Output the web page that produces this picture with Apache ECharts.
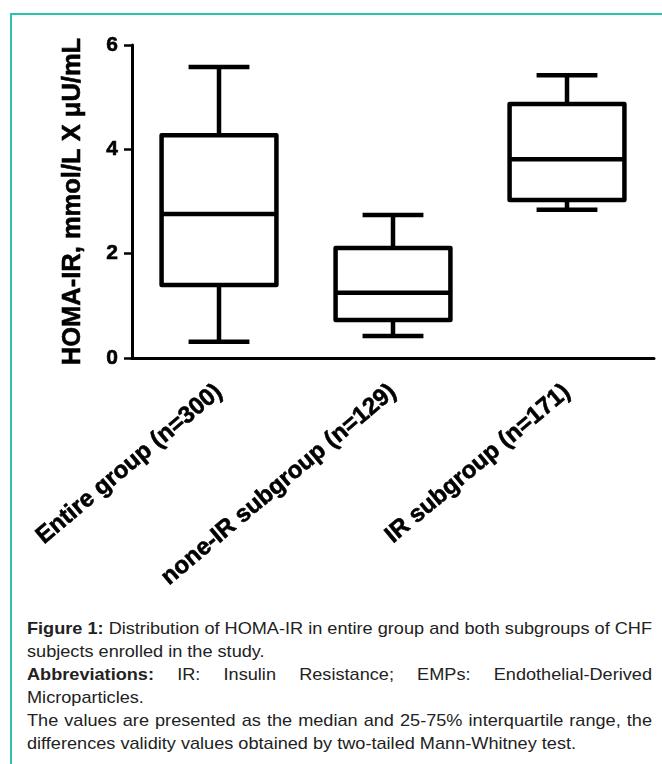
<!DOCTYPE html>
<html>
<head>
<meta charset="utf-8">
<script src="https://cdn.jsdelivr.net/npm/echarts@6/dist/echarts.min.js"></script>
<style>
  html, body { margin: 0; padding: 0; background: #fff; }
  #wrap { position: relative; width: 662px; height: 764px; overflow: hidden; }
  #frame { position: absolute; left: 10px; top: 13px; width: 660px; height: 760px;
           border-top: 2px solid #2cc3ac; border-left: 2px solid #2cc3ac; }
  #chart { position: absolute; left: 0; top: 0; width: 662px; height: 612px; }
  #caption { position: absolute; left: 27px; top: 617px;
             font-family: "Liberation Sans", Arial, sans-serif;
             font-size: 17px; line-height: 23px; color: #222; transform-origin: 0 0; }
  #caption div { white-space: nowrap; }
  #caption .j { text-align: justify; text-align-last: justify; }
  #caption b { font-weight: bold; }
</style>
</head>
<body>
<div id="wrap">
  <div id="frame"></div>
  <div id="chart"></div>
  <div id="caption">
    <div class="j"><b>Figure 1:</b> Distribution of HOMA-IR in entire group and both subgroups of CHF</div>
    <div>subjects enrolled in the study.</div>
    <div class="j"><b>Abbreviations:</b> IR: Insulin Resistance; EMPs: Endothelial-Derived</div>
    <div>Microparticles.</div>
    <div class="j">The values are presented as the median and 25-75% interquartile range, the</div>
    <div>differences validity values obtained by two-tailed Mann-Whitney test.</div>
  </div>
</div>
<script>
// Categories
var categories = ['Entire group (n=300)', 'none-IR subgroup (n=129)', 'IR subgroup (n=171)'];
// [min, Q1, median, Q3, max]
var entireGroup = [0.31, 1.40, 2.76, 4.27, 5.58];
var noneIRGroup = [0.42, 0.73, 1.25, 2.11, 2.74];
var irGroup = [2.84, 3.03, 3.81, 4.87, 5.42];
var yTicks = [0, 2, 4, 6];
var yAxisTitle = 'HOMA-IR, mmol/L X \u03bcU/mL';

// caption: condense to the reference's narrow look, fixed 625px text width
(function () {
  var cap = document.getElementById('caption');
  var probe = document.createElement('span');
  probe.style.whiteSpace = 'nowrap';
  probe.innerHTML = cap.children[0].innerHTML;
  cap.appendChild(probe);
  var w = probe.getBoundingClientRect().width;
  cap.removeChild(probe);
  var s = 625 / w;
  cap.style.width = (625 / s) + 'px';
  cap.style.transform = 'scaleX(' + s + ')';
})();

var groups = [entireGroup, noneIRGroup, irGroup];
var boxData = groups.map(function (g, i) { return [i].concat(g); });

var boldText = { fontFamily: 'Liberation Sans, Arial, sans-serif', fontWeight: 'bold', color: '#000',
                 textBorderColor: '#000', textBorderWidth: 0.6 };

var chart = echarts.init(document.getElementById('chart'));
chart.setOption({
  animation: false,
  backgroundColor: 'transparent',
  grid: { left: 132, right: 8, top: 45, height: 313 },
  xAxis: {
    type: 'category',
    data: categories,
    boundaryGap: true,
    axisLine: { lineStyle: { color: '#000', width: 3 } },
    axisTick: { alignWithLabel: true, length: 10, lineStyle: { color: '#000', width: 2.5 } },
    axisLabel: Object.assign({ rotate: 40, interval: 0, margin: 31, fontSize: 24 }, boldText),
    splitLine: { show: false }
  },
  yAxis: {
    type: 'value',
    min: yTicks[0], max: yTicks[yTicks.length - 1], interval: 2,
    name: yAxisTitle,
    nameLocation: 'middle',
    nameRotate: 90,
    nameGap: 46,
    nameTextStyle: Object.assign({ fontSize: 25.5 }, boldText),
    axisLine: { show: true, lineStyle: { color: '#000', width: 3 } },
    axisTick: { show: true, length: 8, lineStyle: { color: '#000', width: 2.5 } },
    axisLabel: Object.assign({ margin: 14, fontSize: 21 }, boldText),
    splitLine: { show: false }
  },
  series: [{
    type: 'custom',
    data: boxData,
    encode: { x: 0, y: [1, 2, 3, 4, 5] },
    renderItem: function (params, api) {
      var idx = api.value(0);
      var band = api.size([1, 0])[0];
      var boxW = band * 0.66;
      var capW = boxW * 0.53;
      var x = api.coord([idx, 0])[0];
      var yMin = api.coord([idx, api.value(1)])[1];
      var yQ1 = api.coord([idx, api.value(2)])[1];
      var yMed = api.coord([idx, api.value(3)])[1];
      var yQ3 = api.coord([idx, api.value(4)])[1];
      var yMax = api.coord([idx, api.value(5)])[1];
      var st = { stroke: '#000', lineWidth: 4.5, fill: null };
      return {
        type: 'group',
        children: [
          { type: 'line', shape: { x1: x, y1: yMax, x2: x, y2: yQ3 }, style: st },
          { type: 'line', shape: { x1: x, y1: yQ1, x2: x, y2: yMin }, style: st },
          { type: 'line', shape: { x1: x - capW / 2, y1: yMax, x2: x + capW / 2, y2: yMax }, style: st },
          { type: 'line', shape: { x1: x - capW / 2, y1: yMin, x2: x + capW / 2, y2: yMin }, style: st },
          { type: 'rect', shape: { x: x - boxW / 2, y: yQ3, width: boxW, height: yQ1 - yQ3 },
            style: { stroke: '#000', lineWidth: 4.5, fill: '#fff', lineJoin: 'round' } },
          { type: 'line', shape: { x1: x - boxW / 2, y1: yMed, x2: x + boxW / 2, y2: yMed }, style: st }
        ]
      };
    }
  }]
});
</script>
</body>
</html>
